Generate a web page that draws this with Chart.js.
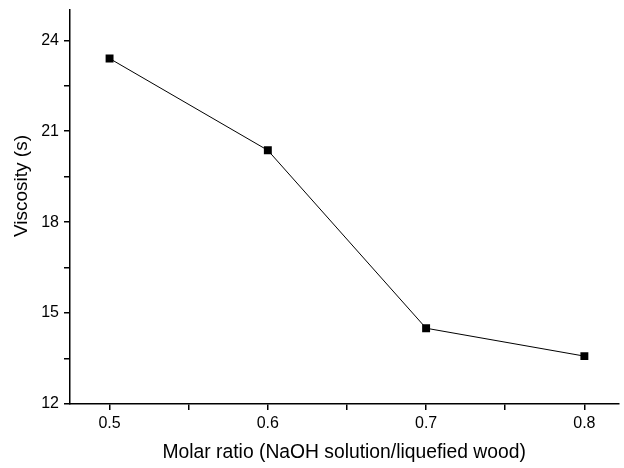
<!DOCTYPE html>
<html>
<head>
<meta charset="utf-8">
<script src="https://cdn.jsdelivr.net/npm/chart.js@4/dist/chart.umd.min.js"></script>
<style>
  html, body { margin: 0; padding: 0; background: #fff; }
  #wrap { width: 624px; height: 468px; }
</style>
</head>
<body>
<div id="wrap"><canvas id="miGrafica" width="624" height="468"></canvas></div>
<script>
// datos
const ratios = [0.5, 0.6, 0.7, 0.8];
const viscosity = [23.4, 20.37, 14.5, 13.58];

// ticks (mayores con etiqueta, menores sin)
const xTicks = [0.5, 0.55, 0.6, 0.65, 0.7, 0.75, 0.8];
const xLabels = ['0.5', '', '0.6', '', '0.7', '', '0.8'];
const yTicks = [12, 13.5, 15, 16.5, 18, 19.5, 21, 22.5, 24];
const yLabels = ['12', '', '15', '', '18', '', '21', '', '24'];
const yTitle = 'Viscosity (s)';

const fuente = "'Liberation Sans', Arial, sans-serif";

// titulo del eje y dibujado un poco arriba del centro, como en el original
const tituloY = {
    id: 'tituloY',
    afterDraw(chart) {
        const c = chart.ctx;
        c.save();
        c.translate(22, 186);
        c.rotate(-Math.PI / 2);
        c.fillStyle = '#000';
        c.font = '19px ' + fuente;
        c.textAlign = 'center';
        c.textBaseline = 'middle';
        c.fillText(yTitle, 0, 0);
        c.restore();
    }
};

const ctx = document.getElementById('miGrafica').getContext('2d');

window.myChart = new Chart(ctx, {
    type: 'line',
    data: {
        datasets: [{
            label: 'Viscosity',
            data: ratios.map((r, i) => ({ x: r, y: viscosity[i] })),
            borderColor: '#000',
            borderWidth: 1,
            backgroundColor: '#000',
            pointStyle: 'rect',
            pointRadius: 5.6,
            pointBorderWidth: 0,
            tension: 0,
        }],
    },
    options: {
        responsive: false,
        animation: false,
        layout: { padding: { top: 10, right: 0, left: 0, bottom: 0 } },
        plugins: {
            legend: { display: false },
            tooltip: { enabled: false },
        },
        scales: {
            x: {
                type: 'linear',
                min: 0.475,
                max: 0.8215,
                afterBuildTicks: (s) => { s.ticks = xTicks.map(v => ({ value: v })); },
                afterFit: (s) => { s.height = 64; },
                border: { display: true, color: '#000', width: 1.5 },
                grid: { drawOnChartArea: false, drawTicks: true, tickLength: 6, color: '#000', lineWidth: 1.5 },
                ticks: {
                    autoSkip: false,
                    maxRotation: 0,
                    padding: 4,
                    color: '#000',
                    font: { family: fuente, size: 16 },
                    callback: (v, i) => xLabels[i],
                },
                title: {
                    display: true,
                    text: 'Molar ratio (NaOH solution/liquefied wood)',
                    color: '#000',
                    font: { family: fuente, size: 19.3 },
                    padding: { top: 4 },
                },
            },
            y: {
                type: 'linear',
                min: 12,
                max: 25,
                afterBuildTicks: (s) => { s.ticks = yTicks.map(v => ({ value: v })); },
                afterFit: (s) => { s.width = 70; s.paddingTop = 0; s.paddingBottom = 0; },
                border: { display: true, color: '#000', width: 1.5 },
                grid: { drawOnChartArea: false, drawTicks: true, tickLength: 6, color: '#000', lineWidth: 1.5 },
                ticks: {
                    autoSkip: false,
                    padding: 5,
                    color: '#000',
                    font: { family: fuente, size: 16 },
                    callback: (v, i) => yLabels[i],
                },
                title: { display: false },
            },
        },
    },
    plugins: [tituloY],
});
</script>
</body>
</html>
